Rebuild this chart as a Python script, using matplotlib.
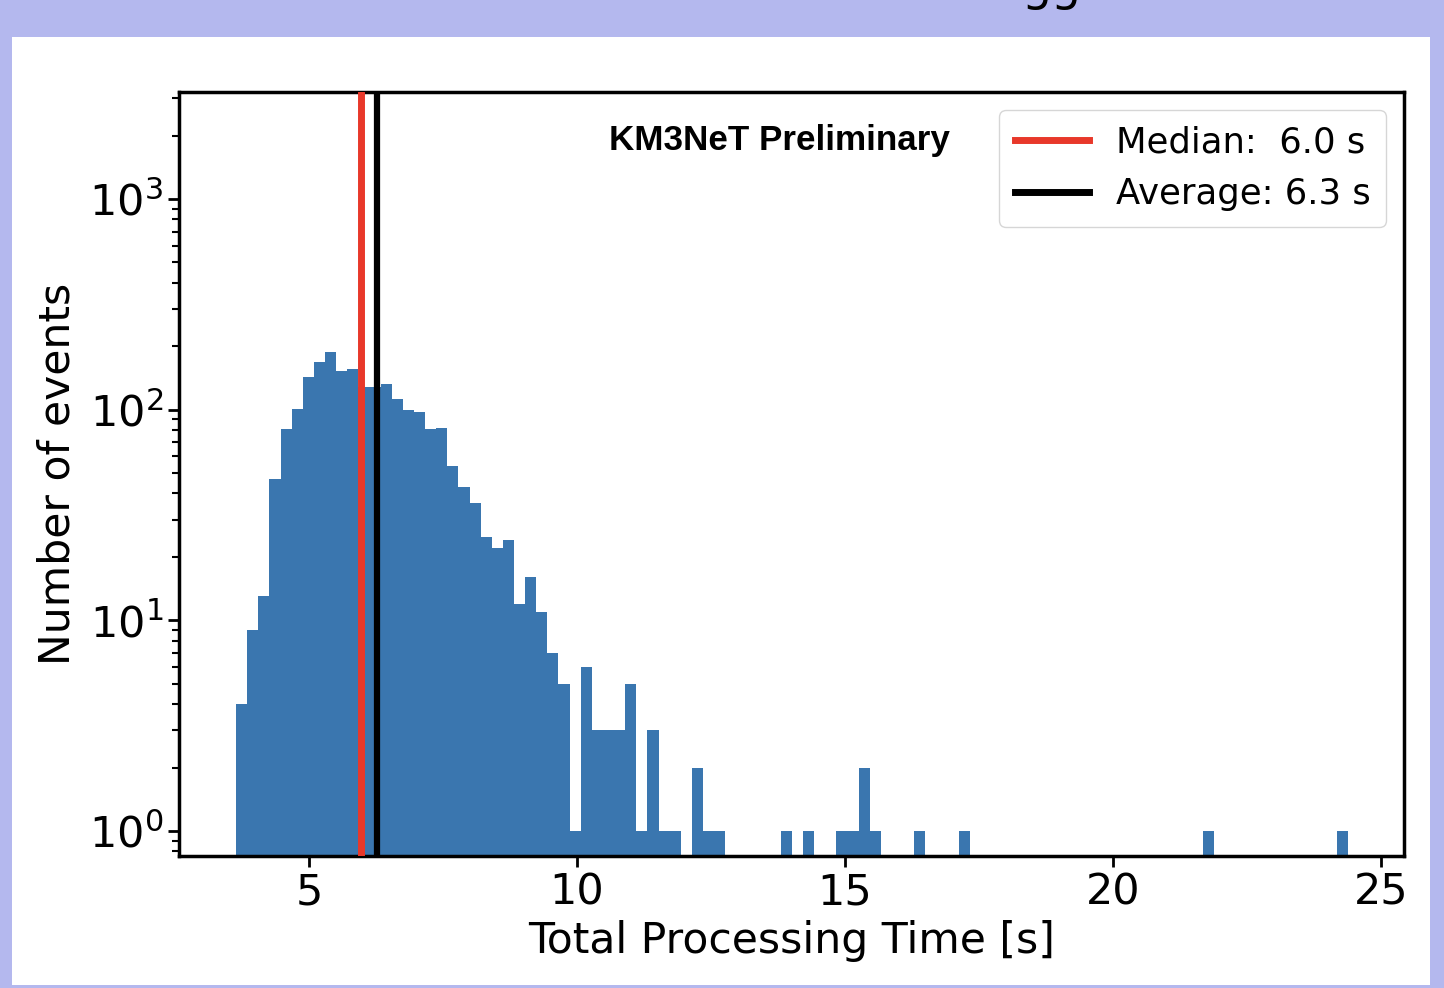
import numpy as np
import matplotlib
matplotlib.use("Agg")
import matplotlib.pyplot as plt
from matplotlib.patches import Rectangle

# ---- data ----
t_min, t_max, n_bins = 3.64, 24.38, 100
counts = [4, 9, 13, 47, 81, 101, 143, 169, 188, 153,
          156, 128, 128, 132, 112, 100, 97, 81, 82, 54,
          43, 36, 25, 22, 24, 12, 16, 11, 7, 5,
          1, 6, 3, 3, 3, 5, 1, 3, 1, 1,
          0, 2, 1, 1, 0, 0, 0, 0, 0, 1,
          0, 1, 0, 0, 1, 1, 2, 1, 0, 0,
          0, 1, 0, 0, 0, 1, 0, 0, 0, 0,
          0, 0, 0, 0, 0, 0, 0, 0, 0, 0,
          0, 0, 0, 0, 0, 0, 0, 1, 0, 0,
          0, 0, 0, 0, 0, 0, 0, 0, 0, 1]
median_val = 5.97
mean_val = 6.26
median_label = "Median:  6.0 s"
mean_label = "Average: 6.3 s"
x_ticks = [5, 10, 15, 20, 25]

edges = np.linspace(t_min, t_max, n_bins + 1)
centers = 0.5 * (edges[:-1] + edges[1:])

fig = plt.figure(figsize=(14.44, 9.88), dpi=100)
fig.patch.set_facecolor("#b4b8ee")
fig.patches.append(Rectangle((12 / 1444, 3 / 988), (1430 - 12) / 1444, (985 - 37) / 988,
                             transform=fig.transFigure, facecolor="white",
                             edgecolor="none", zorder=-10))
# cut-off slide title fragment at the top
fig.text(0.728, 0.9995, "gg", fontsize=34, ha="center", va="baseline", color="black")

ax = fig.add_axes([179 / 1444, 1 - 856 / 988, (1404 - 179) / 1444, (856 - 92) / 988])
ax.set_zorder(5)
ax.hist(centers, bins=edges, weights=counts, color="#3a76af", zorder=1)
ax.set_yscale("log")
ax.set_xlim(2.575, 25.43)
ax.set_ylim(0.761, 3220)

ax.axvline(median_val, color="#e8382a", lw=5, label=median_label, zorder=3)
ax.axvline(mean_val, color="black", lw=4.5, label=mean_label, zorder=3)

ax.set_xticks(x_ticks)
ax.set_xlabel("Total Processing Time [s]", fontsize=30.6, labelpad=4)
ax.set_ylabel("Number of events", fontsize=30.6, labelpad=7)
ax.tick_params(axis="both", which="major", labelsize=31, length=8, width=2)
ax.tick_params(axis="y", which="minor", length=5, width=1.5)
for s in ax.spines.values():
    s.set_linewidth(2.5)

ax.text(0.351, 0.937, "KM3NeT Preliminary", transform=ax.transAxes,
        fontsize=25.2, fontweight="bold", family="Liberation Sans",
        ha="left", va="center")

leg = ax.legend(loc="upper right", fontsize=25.5, handlelength=2.1,
                borderaxespad=0.5, framealpha=0.8, borderpad=0.45,
                labelspacing=0.5, handletextpad=0.75)
for h in leg.get_lines():
    h.set_linewidth(5)

fig.savefig("out.png", dpi=100, facecolor=fig.get_facecolor())
